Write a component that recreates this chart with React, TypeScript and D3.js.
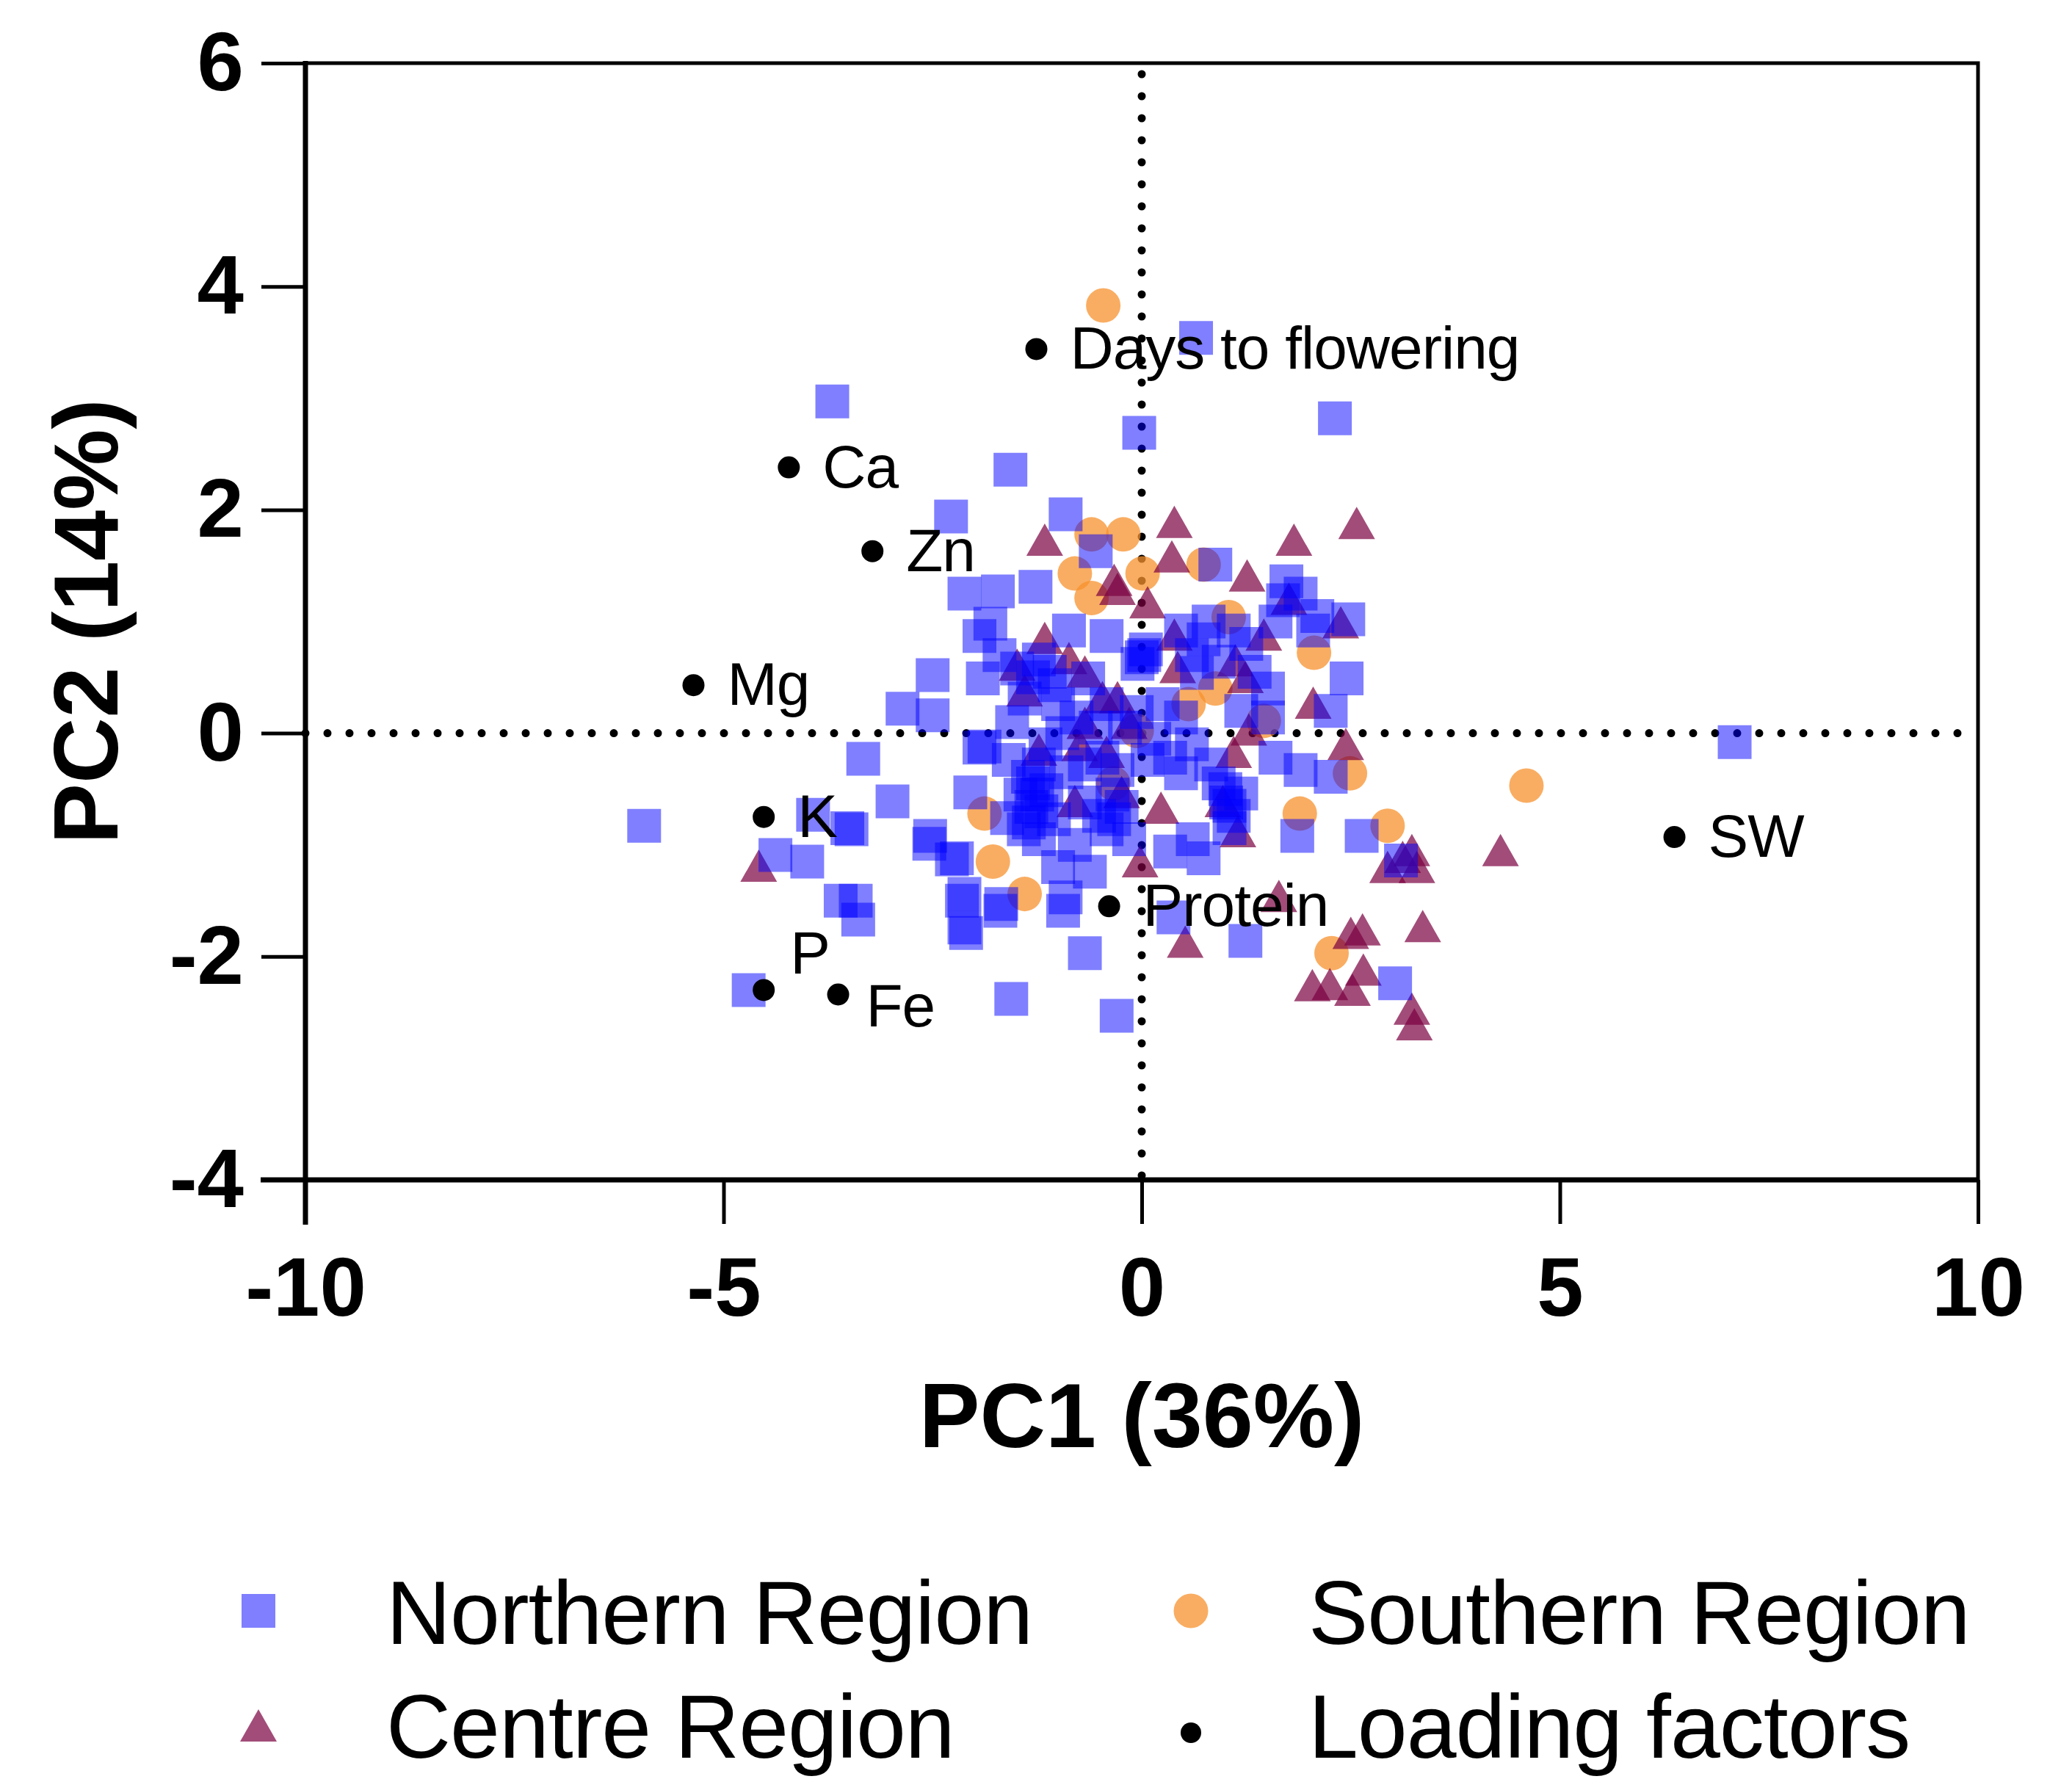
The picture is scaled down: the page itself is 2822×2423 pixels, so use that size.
import React, { useEffect, useRef } from "react";
import * as d3 from "d3";

// PC1 / PC2 scores
const northern: [number, number][] = [
  [-3.7, 2.97], [0.65, 3.54], [-0.03, 2.69], [2.31, 2.82], [-1.57, 2.36], [-2.28, 1.94], [-0.91, 1.96],
  [-0.55, 1.63], [0.88, 1.51], [-2.12, 1.25], [-1.72, 1.27], [-1.27, 1.31], [-1.81, 0.98], [-1.94, 0.87],
  [1.73, 1.36], [1.69, 1.19], [2.47, 1.02], [2.05, 0.92], [2.45, 0.49], [-0.87, 0.92], [-0.42, 0.87],
  [0.03, 0.7], [-0.05, 0.62], [0.47, 0.92], [0.74, 0.84], [1.1, 0.92], [0.92, 0.64], [0.66, 0.54],
  [1.51, 0.4], [-2.5, 0.52], [-2.86, 0.22], [-2.5, 0.16], [-1.9, 0.49], [-1.49, 0.58], [-1.23, 0.66],
  [-1.04, 0.43], [-1.4, 0.31], [-1.0, 0.26], [-0.64, 0.49], [-0.78, 0.14], [-0.42, 0.26], [-0.06, 0.19],
  [0.25, 0.26], [0.47, 0.14], [1.19, 0.2], [1.51, 0.14], [2.26, 0.2], [-3.33, -0.23], [-1.94, -0.13],
  [-1.59, -0.24], [-1.23, -0.28], [-1.36, -0.39], [-1.14, -0.51], [-1.32, -0.66], [-1.05, -0.77],
  [-1.41, -0.86], [-1.23, -0.95], [-0.68, -0.28], [-0.47, -0.22], [-0.29, -0.33], [-0.24, -0.66],
  [-0.33, -0.77], [-0.51, -0.74], [-0.68, -0.62], [0.07, -0.24], [0.34, -0.22], [0.47, -0.36],
  [0.83, -0.28], [0.92, -0.45], [1.01, -0.62], [1.19, -0.54], [1.1, -0.74], [1.6, -0.22], [1.9, -0.33],
  [2.26, -0.39], [1.86, -0.92], [2.63, -0.92], [0.61, -0.95], [0.34, -1.06], [0.74, -1.12], [-0.42, -0.86],
  [-2.53, -0.92], [-2.21, -1.12], [-3.47, -0.86], [-3.42, -1.5], [-2.12, -1.44], [-2.12, -1.74],
  [-1.68, -1.53], [-0.91, -1.47], [-0.68, -1.97], [0.38, -1.65], [1.24, -1.86], [-1.56, -2.38],
  [3.03, -2.24], [-5.95, -0.83], [-4.7, -2.3], [-0.3, -2.53], [7.09, -0.08], [-2.98, -0.61],
  [-3.93, -0.73], [-3.52, -0.85], [-4.38, -1.09], [-4.0, -1.15], [-3.6, -1.5], [-3.39, -1.67],
  [-2.05, -0.53], [-2.54, -0.99], [-2.27, -1.13], [-2.15, -1.5], [-2.1, -1.79], [-1.69, -1.59],
  [-0.94, -1.59], [-0.62, -1.24], [-1.61, -0.76], [-1.88, -0.12], [3.1, -1.14], [-1.3, -0.45],
  [-1.2, -0.7], [-1.45, -0.55], [-0.9, -0.35], [-0.35, -0.55], [0.05, 0.75], [1.0, -0.5], [1.05, -0.85],
  [-1.1, 0.55], [-1.3, 0.5], [-0.55, 0.05], [0.15, -0.05], [0.6, 0.7], [1.25, 0.8], [1.6, 1.0],
  [1.9, 1.25], [-1.7, 0.7], [-0.2, 0.05], [0.6, -0.1], [-1.15, -0.1], [-0.95, 0.0], [-1.55, 0.1],
  [0.8, 1.0], [1.35, 0.55], [-0.8, -1.0], [-1.0, -1.2], [2.1, 1.05], [-0.15, -0.95],
  [-1.25, -0.55], [-1.35, -0.8], [0.0, 0.68], [1.05, -0.65],
];

const centre: [number, number][] = [
  [-4.58, -1.2], [-1.16, 1.72], [0.39, 1.88], [0.36, 1.57], [1.82, 1.72], [2.57, 1.87], [1.26, 1.4],
  [-0.33, 1.36], [-0.29, 1.28], [0.07, 1.16], [1.76, 1.19], [1.46, 0.87], [2.38, 0.98], [0.39, 0.87],
  [0.43, 0.58], [1.12, 0.64], [1.24, 0.49], [2.05, 0.26], [-1.16, 0.84], [-1.49, 0.6], [-0.87, 0.66],
  [-0.68, 0.54], [-1.4, 0.37], [-0.47, 0.31], [-0.29, 0.31], [-0.68, 0.08], [-0.15, 0.08], [-1.23, -0.16],
  [-0.74, -0.12], [-0.42, -0.18], [1.1, -0.18], [1.28, 0.02], [2.44, -0.11], [-0.8, -0.62], [-0.24, -0.54],
  [0.23, -0.68], [0.97, -0.62], [1.15, -0.89], [-0.02, -1.16], [0.52, -1.88], [3.12, -1.12], [3.23, -1.06],
  [2.94, -1.21], [3.29, -1.21], [4.29, -1.06], [3.36, -1.74], [2.5, -1.8], [2.64, -1.77], [2.65, -2.13],
  [2.25, -2.26], [2.52, -2.31], [2.04, -2.27], [3.23, -2.48], [3.26, -2.62], [1.64, -1.47],
];

const southern: [number, number][] = [
  [-0.46, 3.83], [-0.6, 1.78], [-0.22, 1.78], [-0.8, 1.43], [0.01, 1.43], [-0.6, 1.21], [0.74, 1.51],
  [1.04, 1.04], [2.06, 0.72], [0.56, 0.26], [0.88, 0.4], [1.46, 0.11], [2.49, -0.36], [4.6, -0.47],
  [1.89, -0.72], [2.94, -0.83], [-1.88, -0.72], [-1.78, -1.15], [-1.4, -1.44], [2.27, -1.97],
  [-0.34, -0.45], [-0.06, 0.02],
];

const loadingNames = ["Days to flowering", "Ca", "Zn", "Mg", "K", "P", "Fe", "Protein", "SW"];
const loadingX = [-1.26, -4.22, -3.22, -5.36, -4.52, -4.52, -3.63, -0.39, 6.37];
const loadingY = [3.44, 2.38, 1.63, 0.43, -0.75, -2.3, -2.34, -1.55, -0.93];

const xTicks = [-10, -5, 0, 5, 10];
const yTicks = [-4, -2, 0, 2, 4, 6];
const xTitle = "PC1 (36%)";
const yTitle = "PC2 (14%)";
const legendLabels = ["Northern Region", "Southern Region", "Centre Region", "Loading factors"];

const FONT = "'Liberation Sans', Arial, Helvetica, sans-serif";

const App = () => {
  const ref = useRef<SVGSVGElement>(null);

  useEffect(() => {
    const width = 2822;
    const height = 2423;
    const left = 416, right = 2694, top = 86, bottom = 1607;

    const svg = d3.select(ref.current);
    svg.selectAll("*").remove();
    svg.attr("width", width).attr("height", height);

    const x = d3.scaleLinear().domain([-10, 10]).range([left, right]);
    const y = d3.scaleLinear().domain([-4, 6]).range([bottom, top]);

    const squarePath = d3.symbol().type(d3.symbolSquare).size(46 * 46)()!;
    const circlePath = d3.symbol().type(d3.symbolCircle).size(Math.PI * 23.5 * 23.5)()!;
    const trianglePath = "M0,-24L25,20L-25,20Z";

    const styles = {
      north: { d: squarePath, fill: "#0000ff", op: 0.5 },
      south: { d: circlePath, fill: "#f7922e", op: 0.75 },
      centre: { d: trianglePath, fill: "#7a0040", op: 0.7 },
    };

    // zero lines (dotted)
    svg.append("line")
      .attr("x1", left).attr("x2", right)
      .attr("y1", y(0)).attr("y2", y(0))
      .attr("stroke", "#000").attr("stroke-width", 11)
      .attr("stroke-linecap", "round").attr("stroke-dasharray", "0 30");
    svg.append("line")
      .attr("x1", x(0)).attr("x2", x(0))
      .attr("y1", top + 15).attr("y2", bottom)
      .attr("stroke", "#000").attr("stroke-width", 11)
      .attr("stroke-linecap", "round").attr("stroke-dasharray", "0 30");

    // frame
    svg.append("path")
      .attr("d", `M${left},${top}H${right}V${bottom}`)
      .attr("fill", "none").attr("stroke", "#000").attr("stroke-width", 5);

    // axes
    svg.append("g")
      .attr("transform", `translate(${left},0)`)
      .call(d3.axisLeft(y).tickValues(yTicks).tickSize(60).tickPadding(24).tickFormat((d) => String(d)))
      .call((g) => {
        g.select(".domain").remove();
        g.selectAll("line").attr("stroke-width", 5);
        g.attr("font-family", FONT).attr("font-size", 114).attr("font-weight", "bold");
      });
    svg.append("g")
      .attr("transform", `translate(0,${bottom})`)
      .call(d3.axisBottom(x).tickValues(xTicks).tickSize(60).tickPadding(44).tickFormat((d) => String(d)))
      .call((g) => {
        g.select(".domain").remove();
        g.selectAll("line").attr("stroke-width", 5);
        g.attr("font-family", FONT).attr("font-size", 114).attr("font-weight", "bold");
      });
    svg.append("line")
      .attr("x1", left).attr("x2", left).attr("y1", top - 3).attr("y2", bottom + 61)
      .attr("stroke", "#000").attr("stroke-width", 7);
    svg.append("line")
      .attr("x1", left - 61).attr("x2", right + 2).attr("y1", bottom).attr("y2", bottom)
      .attr("stroke", "#000").attr("stroke-width", 7);

    // titles
    svg.append("text")
      .attr("x", (left + right) / 2).attr("y", 1971)
      .attr("text-anchor", "middle").attr("font-family", FONT)
      .attr("font-size", 124).attr("font-weight", "bold").text(xTitle);
    svg.append("text")
      .attr("transform", `translate(160,${(top + bottom) / 2}) rotate(-90)`)
      .attr("text-anchor", "middle").attr("font-family", FONT)
      .attr("font-size", 124).attr("font-weight", "bold").text(yTitle);

    // points
    const drawSeries = (data: [number, number][], s: { d: string; fill: string; op: number }) => {
      svg.append("g")
        .selectAll("path")
        .data(data)
        .join("path")
        .attr("d", s.d)
        .attr("transform", (d) => `translate(${x(d[0])},${y(d[1])})`)
        .attr("fill", s.fill)
        .attr("fill-opacity", s.op);
    };
    drawSeries(southern, styles.south);
    drawSeries(centre, styles.centre);
    drawSeries(northern, styles.north);

    // loading factors
    const nudge: Record<string, [number, number]> = { P: [36, -22], Fe: [38, 43] };
    const lg = svg.append("g");
    lg.selectAll("circle")
      .data(loadingNames)
      .join("circle")
      .attr("cx", (_, i) => x(loadingX[i]))
      .attr("cy", (_, i) => y(loadingY[i]))
      .attr("r", 15)
      .attr("fill", "#000");
    lg.selectAll("text")
      .data(loadingNames)
      .join("text")
      .attr("x", (d, i) => x(loadingX[i]) + (nudge[d] ? nudge[d][0] : 46))
      .attr("y", (d, i) => y(loadingY[i]) + (nudge[d] ? nudge[d][1] : 27))
      .attr("font-family", FONT)
      .attr("font-size", 82)
      .attr("letter-spacing", -1)
      .text((d) => d);

    // legend
    const legendPos: [number, number][] = [[352, 2194], [1622, 2194], [352, 2352], [1622, 2360]];
    const legendPaths = [styles.north, styles.south, styles.centre, null];
    legendLabels.forEach((lab, i) => {
      const [lx, ly] = legendPos[i];
      const s = legendPaths[i];
      if (s) {
        svg.append("path")
          .attr("d", s.d)
          .attr("transform", `translate(${lx},${ly})`)
          .attr("fill", s.fill).attr("fill-opacity", s.op);
      } else {
        svg.append("circle").attr("cx", lx).attr("cy", ly).attr("r", 14).attr("fill", "#000");
      }
      svg.append("text")
        .attr("x", i % 2 === 0 ? 526 : 1782)
        .attr("y", i < 2 ? 2239 : 2394)
        .attr("font-family", FONT)
        .attr("font-size", 122)
        .attr("letter-spacing", -1)
        .text(lab);
    });
  }, []);

  return (
    <div style={{ position: "absolute", left: 0, top: 0, background: "#fff" }}>
      <svg ref={ref} />
    </div>
  );
};

export default App;
